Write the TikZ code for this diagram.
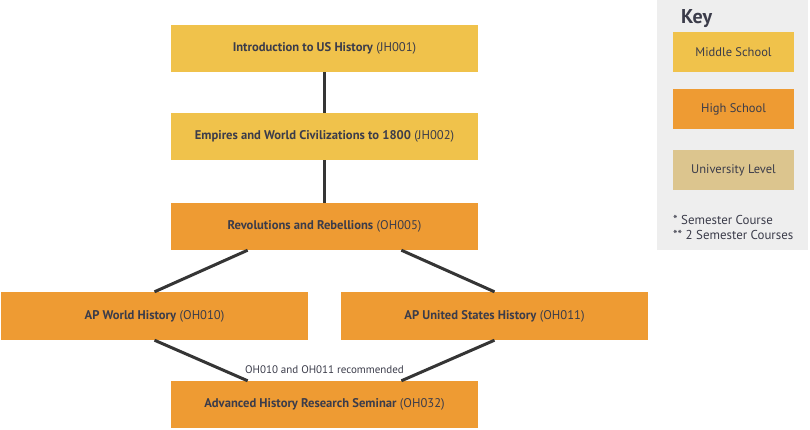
\documentclass[tikz,border=0pt]{standalone}
\usepackage{fontspec}
\setmainfont{PT Sans}
\usetikzlibrary{calc}
\definecolor{midc}{HTML}{F0C24B}
\definecolor{highc}{HTML}{EE9B33}
\definecolor{unic}{HTML}{DCC58E}
\definecolor{keybg}{HTML}{EEEEEE}
\definecolor{txt}{HTML}{3B3C4A}
\definecolor{linec}{HTML}{353535}
\tikzset{
  course/.style={minimum width=307pt, minimum height=47pt, inner sep=0pt, text=txt, font=\fontsize{12.6}{14}\selectfont},
  mid/.style={course, fill=midc},
  high/.style={course, fill=highc},
  keybox/.style={minimum width=121pt, minimum height=40pt, inner sep=0pt, text=txt, font=\fontsize{12.5}{14}\selectfont},
  conn/.style={draw=linec, line width=3pt},
}
\begin{document}
\begin{tikzpicture}[x=1pt,y=-1pt]
\useasboundingbox (0,0) rectangle (810,430);
% key
\fill[keybg] (657,0) rectangle (808,250);
\node[anchor=base west, font=\fontsize{20}{22}\bfseries\selectfont, text=txt, inner sep=0pt] (keyt) at (681,24) {Key};
\node[keybox, fill=midc] (k1) at (733.5,52.5) {Middle School};
\node[keybox, fill=highc] (k2) at (733.5,109) {High School};
\node[keybox, fill=unic] (k3) at (733.5,170) {University Level};
\node[anchor=west, text=txt, inner sep=0pt, align=left, font=\fontsize{12.9}{15}\selectfont] (fn) at (673,227.5) {* Semester Course\\** 2 Semester Courses};
% courses
\node[mid] (b1) at (324.5,48.5) {\textbf{Introduction to US History} (JH001)};
\node[mid] (b2) at (324.5,136.5) {\textbf{Empires and World Civilizations to 1800} (JH002)};
\node[high] (b3) at (324.5,226.5) {\textbf{Revolutions and Rebellions} (OH005)};
\node[high, minimum height=48pt] (b4) at (154.5,316) {\textbf{AP World History} (OH010)};
\node[high, minimum height=48pt] (b5) at (494.5,316) {\textbf{AP United States History} (OH011)};
\node[high] (b6) at (324.5,404.5) {\textbf{Advanced History Research Seminar} (OH032)};
% connectors
\draw[conn] (b1.south) -- (b2.north);
\draw[conn] (b2.south) -- (b3.north);
\draw[conn] ($(b3.south west)!0.25!(b3.south east)$) -- (b4.north);
\draw[conn] ($(b3.south west)!0.75!(b3.south east)$) -- (b5.north);
\draw[conn] (b4.south) -- ($(b6.north west)!0.25!(b6.north east)$);
\draw[conn] (b5.south) -- ($(b6.north west)!0.75!(b6.north east)$);
\node[text=txt, font=\fontsize{11}{12}\selectfont, inner sep=1pt] (lab) at (324.5,370) {OH010 and OH011 recommended};
\end{tikzpicture}
\end{document}
